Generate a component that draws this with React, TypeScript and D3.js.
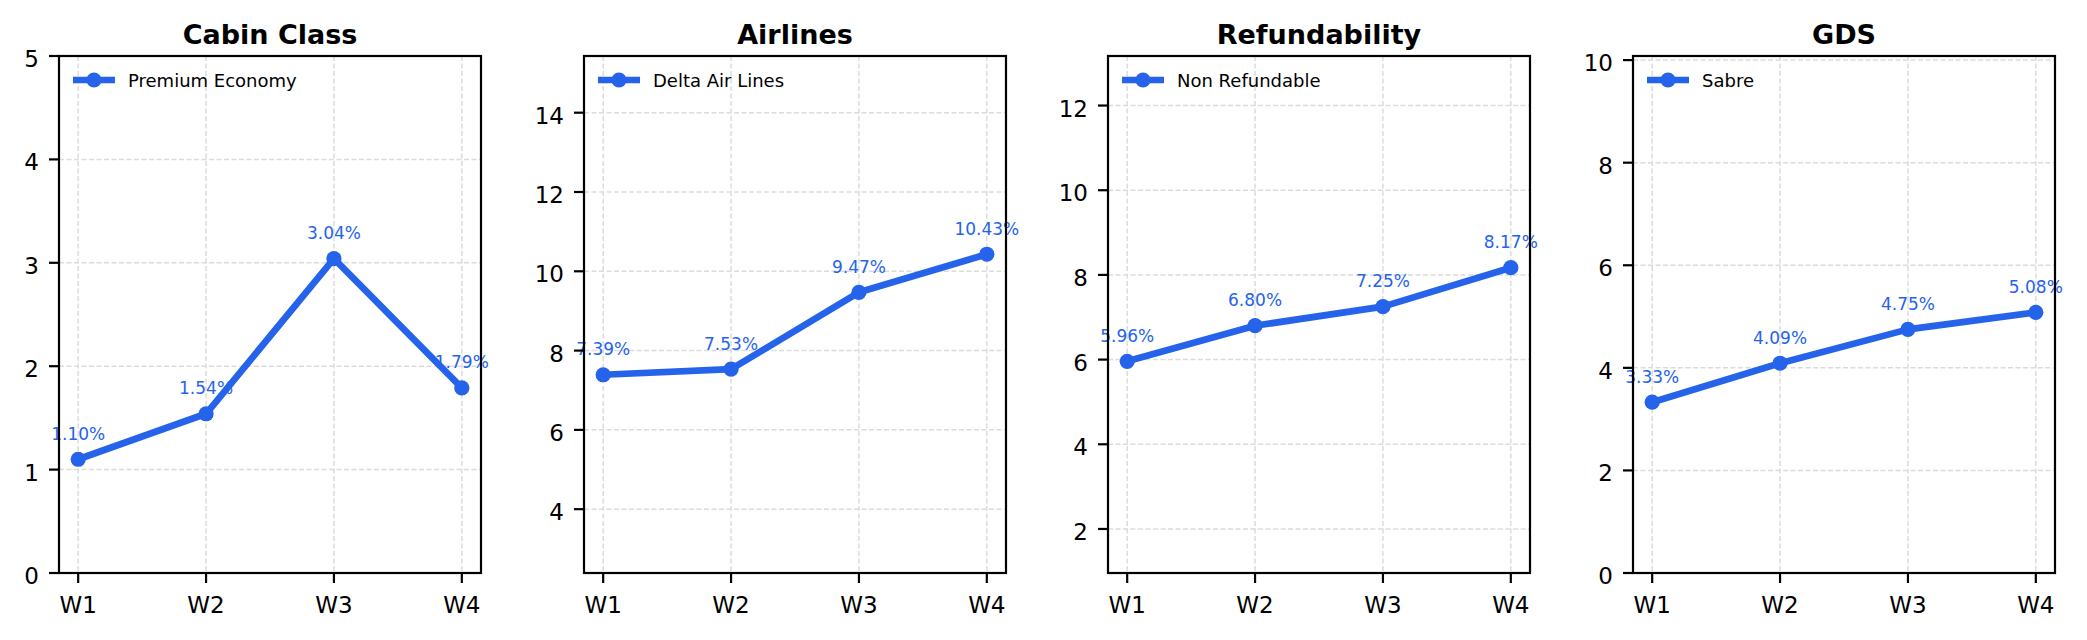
import React from 'react';
import * as d3 from 'd3';

// weekly share (%) per breakdown
const weeks = ['W1', 'W2', 'W3', 'W4'];
const titles = ['Cabin Class', 'Airlines', 'Refundability', 'GDS'];
const seriesNames = ['Premium Economy', 'Delta Air Lines', 'Non Refundable', 'Sabre'];
const cabinValues = [1.10, 1.54, 3.04, 1.79];
const airlineValues = [7.39, 7.53, 9.47, 10.43];
const refundValues = [5.96, 6.80, 7.25, 8.17];
const gdsValues = [3.33, 4.09, 4.75, 5.08];
const yMins = [0, 2.39, 0.96, 0];
const yMaxs = [5, 15.43, 13.17, 10.08];

const allValues = [cabinValues, airlineValues, refundValues, gdsValues];

const WIDTH = 2087;
const HEIGHT = 640;
const BLUE = '#2563eb';
const FONT = '"DejaVu Sans", sans-serif';

const panelLefts = [59, 584, 1108, 1633];
const panelWidth = 422;
const top = 56;
const bottom = 573;

interface PanelProps {
  index: number;
}

const Panel: React.FC<PanelProps> = ({ index }) => {
  const left = panelLefts[index];
  const right = left + panelWidth;
  const values = allValues[index];

  const x = d3.scaleLinear().domain([-0.15, weeks.length - 1 + 0.15]).range([left, right]);
  const y = d3.scaleLinear().domain([yMins[index], yMaxs[index]]).range([bottom, top]);
  const yTicks = y.ticks(6);

  const line = d3.line<number>()
    .x((_, i) => x(i))
    .y(d => y(d));

  return (
    <g>
      {/* grid */}
      {yTicks.map(t => (
        <line key={'gy' + t} x1={left} x2={right} y1={y(t)} y2={y(t)}
          stroke="#dcdcdc" strokeWidth={1.5} strokeDasharray="5,2.5" />
      ))}
      {weeks.map((w, i) => (
        <line key={'gx' + w} x1={x(i)} x2={x(i)} y1={top} y2={bottom}
          stroke="#dcdcdc" strokeWidth={1.5} strokeDasharray="5,2.5" />
      ))}

      {/* series */}
      <path d={line(values) || ''} fill="none" stroke={BLUE} strokeWidth={6.7}
        strokeLinejoin="round" strokeLinecap="butt" />
      {values.map((v, i) => (
        <circle key={'pt' + i} cx={x(i)} cy={y(v)} r={7.6} fill={BLUE} />
      ))}
      {values.map((v, i) => (
        <text key={'lb' + i} x={x(i)} y={y(v) - 19.5} textAnchor="middle"
          fontSize={17} fontFamily={FONT} fill={BLUE}>
          {v.toFixed(2)}%
        </text>
      ))}

      {/* frame */}
      <rect x={left} y={top} width={panelWidth} height={bottom - top}
        fill="none" stroke="#000" strokeWidth={2.2} />

      {/* y axis */}
      {yTicks.map(t => (
        <g key={'yt' + t}>
          <line x1={left - 10} x2={left} y1={y(t)} y2={y(t)} stroke="#000" strokeWidth={2.2} />
          <text x={left - 20} y={y(t) + 11} textAnchor="end" fontSize={23}
            fontFamily={FONT} fill="#000">{t}</text>
        </g>
      ))}

      {/* x axis */}
      {weeks.map((w, i) => (
        <g key={'xt' + w}>
          <line x1={x(i)} x2={x(i)} y1={bottom} y2={bottom + 10} stroke="#000" strokeWidth={2.2} />
          <text x={x(i)} y={613} textAnchor="middle" fontSize={23}
            fontFamily={FONT} fill="#000">{w}</text>
        </g>
      ))}

      {/* title */}
      <text x={(left + right) / 2} y={top - 12} textAnchor="middle" fontSize={27}
        fontWeight="bold" fontFamily={FONT} fill="#000">{titles[index]}</text>

      {/* legend */}
      <line x1={left + 14} x2={left + 56} y1={top + 24} y2={top + 24} stroke={BLUE} strokeWidth={6.7} />
      <circle cx={left + 35} cy={top + 24} r={7.6} fill={BLUE} />
      <text x={left + 69} y={top + 31} fontSize={18} fontFamily={FONT} fill="#000">
        {seriesNames[index]}
      </text>
    </g>
  );
};

export default function App() {
  return (
    <svg width={WIDTH} height={HEIGHT} style={{ position: 'absolute', left: 0, top: 0, background: '#fff' }}>
      <rect width={WIDTH} height={HEIGHT} fill="#fff" />
      {titles.map((_, i) => <Panel key={i} index={i} />)}
    </svg>
  );
}
